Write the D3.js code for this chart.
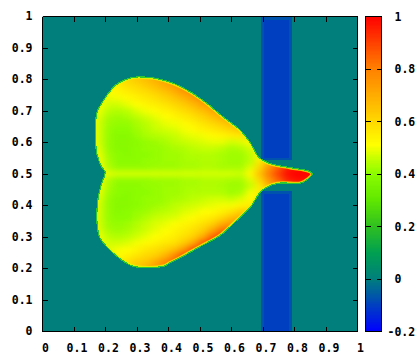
<!DOCTYPE html>
<html>
<head>
<meta charset="utf-8">
<script src="https://cdn.jsdelivr.net/npm/d3@7/dist/d3.min.js"></script>
<style>
html,body{margin:0;padding:0;background:#fff;}
svg{display:block;}
text{font-family:"DejaVu Sans Mono",monospace;font-weight:bold;font-size:11.5px;fill:#000;}
</style>
</head>
<body>
<svg id="c" width="420" height="360"></svg>
<script>
const axisTicks = [0,0.1,0.2,0.3,0.4,0.5,0.6,0.7,0.8,0.9,1];
const barTicks = [-0.2,0,0.2,0.4,0.6,0.8,1];
const backgroundValue = 0;
const colorStops = [-0.2,-0.1,0,0.1,0.2,0.3,0.4,0.45,0.51,0.6,0.8,1];
const colorValues = ["#0000ff","#0040c0","#007f7c","#00a050","#30c020","#60e800","#8cfc00","#bcff00","#ffff00","#ffd800","#ff8000","#ff0000"];

// Blue band: outer (slightly lighter) and inner spans
const bandValue = -0.1, bandEdgeValue = -0.07;
const bandOuterX = [0.693,0.793], bandInnerX = [0.702,0.784];
const bandOuterY = [[0.545,1],[0,0.445]];
const bandInnerY = [[0.552,0.99],[0,0.438]];

// Heart outline
const outlineX = [.300,.342,.363,.415,.469,.522,.574,.628,.660,.686,.723,.787,.845,.856,.840,.819,.745,.697,.660,.617,.564,.501,.437,.405,.384,.289,.246,.209,.183,.174,.177,.188,.199,.188,.172,.169,.172,.186,.206,.232,.264];
const outlineY = [.808,.806,.803,.788,.761,.724,.681,.639,.598,.554,.533,.520,.509,.501,.482,.471,.470,.448,.395,.353,.305,.270,.234,.218,.207,.207,.231,.264,.296,.332,.427,.471,.506,.522,.566,.618,.693,.722,.752,.782,.800];

// Field values x100
const fieldX = [.15,.18,.21,.24,.27,.30,.33,.36,.39,.42,.45,.48,.51,.54,.57,.60,.63,.66,.69,.72,.75,.78,.81,.84,.87];
const fieldY = [.82,.80,.78,.76,.74,.72,.70,.68,.66,.64,.62,.60,.58,.56,.54,.52,.50,.48,.46,.44,.42,.40,.38,.36,.34,.32,.30,.28,.26,.24,.22,.20,.18];
const field = [
[55,55,56,58,60,62,65,68,72,76,80,84,86,86,84,80,75,70,65,60,60,60,60,60,60],
[54,54,55,57,60,63,66,69,72,76,80,84,86,86,84,80,75,70,65,60,60,60,60,60,60],
[53,53,53,55,58,60,63,66,70,74,78,82,85,86,84,80,75,70,65,60,60,60,60,60,60],
[52,52,51,53,55,57,59,62,65,69,74,78,82,84,84,80,75,70,65,60,60,60,60,60,60],
[52,52,49,50,52,54,56,58,61,64,68,73,78,81,83,80,75,70,65,60,60,60,60,60,60],
[52,50,47,47,49,51,53,55,57,60,63,67,72,76,80,80,75,70,65,60,60,60,60,60,60],
[52,49,45,44,45,48,50,52,54,56,59,62,66,71,75,77,73,70,65,60,60,60,60,60,60],
[52,48,43,42,43,45,47,49,51,53,55,58,61,65,69,72,72,68,65,60,60,60,60,60,60],
[52,47,42,41,41,43,45,47,49,50,52,54,57,60,63,67,69,65,62,60,60,60,60,60,60],
[52,47,41,40,40,42,44,46,47,48,50,52,54,56,58,61,64,64,60,60,60,60,60,60,60],
[52,47,41,39,39,41,43,44,45,46,48,49,50,52,53,55,56,60,60,60,60,60,60,60,60],
[52,47,41,39,39,40,41,42,43,45,46,47,48,49,49,47,48,52,60,60,60,60,60,60,60],
[52,48,41,39,39,40,41,41,42,43,44,45,46,46,45,43,44,47,58,60,60,60,60,60,60],
[52,49,42,40,39,40,40,41,42,42,43,44,44,44,43,42,42,45,55,65,70,75,80,80,80],
[53,50,43,40,40,40,41,41,42,42,43,43,44,44,43,42,42,45,55,68,75,85,90,90,90],
[55,52,44,41,41,41,41,42,42,42,43,43,44,44,43,43,43,48,60,75,85,95,98,98,98],
[55,55,48,47,47,47,47,47,47,47,47,47,47,47,47,47,46,52,65,80,90,98,100,100,100],
[55,52,44,41,41,41,41,42,42,42,43,43,44,44,44,43,43,48,60,75,85,95,98,98,98],
[53,50,43,40,40,40,41,41,42,42,43,43,44,44,43,42,42,46,55,68,75,85,90,90,90],
[52,49,42,40,39,40,40,41,42,42,43,44,44,44,44,42,43,50,55,65,70,75,80,80,80],
[52,48,41,39,39,40,41,41,42,43,44,45,46,47,47,46,48,52,55,60,60,60,60,60,60],
[52,47,41,39,39,40,41,42,43,45,46,47,48,49,50,50,53,55,55,60,60,60,60,60,60],
[52,47,41,39,40,41,42,44,45,46,48,49,51,52,54,57,62,62,60,60,60,60,60,60,60],
[52,47,41,40,40,42,44,46,47,48,50,52,54,56,60,66,70,70,65,60,60,60,60,60,60],
[52,47,42,41,42,44,46,48,49,51,53,55,58,62,70,75,75,72,65,60,60,60,60,60,60],
[52,48,43,42,43,45,47,49,51,53,55,58,62,71,82,84,78,72,65,60,60,60,60,60,60],
[52,49,45,44,45,47,49,51,53,55,58,62,70,84,92,88,80,72,65,60,60,60,60,60,60],
[52,50,47,47,48,50,52,54,56,58,63,71,85,94,92,88,80,72,65,60,60,60,60,60,60],
[52,52,48,50,51,53,56,58,61,65,74,87,92,92,92,88,80,72,65,60,60,60,60,60,60],
[52,52,50,52,54,57,60,62,68,78,88,90,90,92,92,88,80,72,65,60,60,60,60,60,60],
[53,53,52,55,58,62,64,70,78,84,86,88,90,92,92,88,80,72,65,60,60,60,60,60,60],
[54,54,54,57,60,64,68,74,78,82,86,88,90,92,92,88,80,72,65,60,60,60,60,60,60],
[54,54,54,57,60,64,68,74,78,82,86,88,90,92,92,88,80,72,65,60,60,60,60,60,60]
];

const svg = d3.select("#c");
const x = d3.scaleLinear().domain([0,1]).range([42.5,357.5]);
const y = d3.scaleLinear().domain([0,1]).range([331.5,16.5]);
const barY = d3.scaleLinear().domain([-0.2,1]).range([331.5,16.5]);
const color = d3.scaleLinear().domain(colorStops).range(colorValues).interpolate(d3.interpolateRgb);

const defs = svg.append("defs");
const line = d3.line().x(d=>x(d[0])).y(d=>y(d[1])).curve(d3.curveCatmullRomClosed.alpha(0.5));
const outlinePts = outlineX.map((v,i)=>[v,outlineY[i]]);
const outlineD = line(outlinePts);
defs.append("clipPath").attr("id","heart").append("path").attr("d",outlineD);
const blur = defs.append("filter").attr("id","soft")
  .attr("filterUnits","userSpaceOnUse").attr("x",0).attr("y",0).attr("width",420).attr("height",360)
  .attr("color-interpolation-filters","sRGB");
blur.append("feGaussianBlur").attr("stdDeviation","3.6 2.4");

// Background
svg.append("rect").attr("x",x(0)).attr("y",y(1)).attr("width",x(1)-x(0)).attr("height",y(0)-y(1))
  .attr("fill",color(backgroundValue));

// Band
const band = svg.append("g").attr("shape-rendering","crispEdges");
band.selectAll("rect.o").data(bandOuterY).join("rect").attr("class","o")
  .attr("x",x(bandOuterX[0])).attr("width",x(bandOuterX[1])-x(bandOuterX[0]))
  .attr("y",d=>y(d[1])).attr("height",d=>y(d[0])-y(d[1])).attr("fill",color(bandEdgeValue));
band.selectAll("rect.i").data(bandInnerY).join("rect").attr("class","i")
  .attr("x",x(bandInnerX[0])).attr("width",x(bandInnerX[1])-x(bandInnerX[0]))
  .attr("y",d=>y(d[1])).attr("height",d=>y(d[0])-y(d[1])).attr("fill",color(bandValue));

// Field cells
const dxCell = x(fieldX[1])-x(fieldX[0]);
const dyCell = y(fieldY[1])-y(fieldY[0]);
const cells = [];
field.forEach((row,j)=>row.forEach((v,i)=>cells.push({i,j,v:v/100})));
const clipG = svg.append("g").attr("clip-path","url(#heart)");
clipG.append("g").attr("filter","url(#soft)").selectAll("rect").data(cells).join("rect")
  .attr("x",d=>x(fieldX[d.i])-dxCell/2-0.3).attr("y",d=>y(fieldY[d.j])-dyCell/2-0.3)
  .attr("width",dxCell+0.6).attr("height",dyCell+0.6).attr("fill",d=>color(d.v));

// Outline ring: yellow-green inner and green outer
clipG.append("path").attr("d",outlineD).attr("fill","none").attr("stroke","#e0f800").attr("stroke-width",3.5).attr("opacity",0.8);
svg.append("path").attr("d",outlineD).attr("fill","none").attr("stroke","#30c830").attr("stroke-width",1.2).attr("shape-rendering","crispEdges");

// Frame and axes
function styleAxis(g){
  g.selectAll("line,path").attr("stroke","#000").attr("shape-rendering","crispEdges");
  g.selectAll(".domain").attr("stroke-width",1);
}
const fmt = d=>String(+d.toFixed(1));
const xb = svg.append("g").attr("transform",`translate(0,${y(0)})`)
  .call(d3.axisBottom(x).tickValues(axisTicks).tickSizeInner(-5).tickSizeOuter(0).tickPadding(12).tickFormat(fmt).offset(0)).call(styleAxis);
xb.selectAll("text").attr("dx",3);
svg.append("g").attr("transform",`translate(0,${y(1)})`)
  .call(d3.axisTop(x).tickValues(axisTicks).tickSizeInner(-5).tickSizeOuter(0).tickFormat("").offset(0)).call(styleAxis);
svg.append("g").attr("transform",`translate(${x(0)},0)`)
  .call(d3.axisLeft(y).tickValues(axisTicks).tickSizeInner(-5).tickSizeOuter(0).tickPadding(10).tickFormat(fmt).offset(0)).call(styleAxis);
svg.append("g").attr("transform",`translate(${x(1)},0)`)
  .call(d3.axisRight(y).tickValues(axisTicks).tickSizeInner(-5).tickSizeOuter(0).tickFormat("").offset(0)).call(styleAxis);

// Colour bar
const barX0 = 365.5, barX1 = 381.5;
const barSteps = d3.range(0,240).map(i=>-0.2+i*0.005);
svg.append("g").attr("shape-rendering","crispEdges").selectAll("rect").data(barSteps).join("rect")
  .attr("x",barX0).attr("width",barX1-barX0)
  .attr("y",d=>barY(d+0.005)).attr("height",d=>barY(d)-barY(d+0.005)+0.5).attr("fill",d=>color(d));
svg.append("rect").attr("x",barX0).attr("y",16.5).attr("width",barX1-barX0).attr("height",315)
  .attr("fill","none").attr("stroke","#000").attr("shape-rendering","crispEdges");
const barTickG = svg.append("g").attr("shape-rendering","crispEdges");
barTickG.selectAll("line.l").data(barTicks).join("line").attr("class","l")
  .attr("x1",barX0).attr("x2",barX0+5).attr("y1",d=>barY(d)).attr("y2",d=>barY(d)).attr("stroke","#000");
barTickG.selectAll("line.r").data(barTicks).join("line").attr("class","r")
  .attr("x1",barX1-5).attr("x2",barX1).attr("y1",d=>barY(d)).attr("y2",d=>barY(d)).attr("stroke","#000");
svg.append("g").selectAll("text").data(barTicks).join("text")
  .attr("x",d=>d<0?387.5:394.5).attr("y",d=>barY(d)).attr("dy","0.36em").text(fmt);
</script>
</body>
</html>
